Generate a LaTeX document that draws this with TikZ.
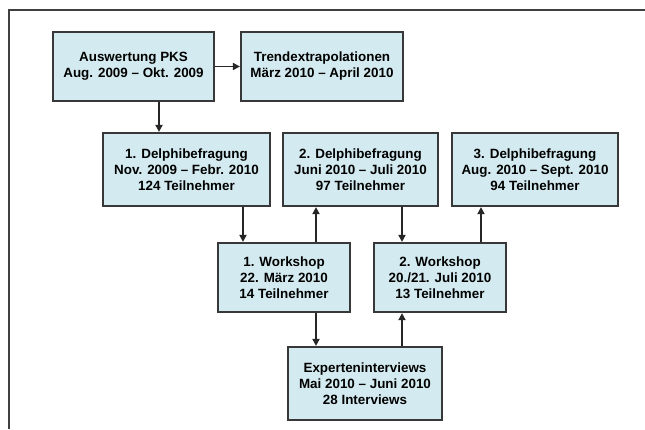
\documentclass[tikz,border=0pt]{standalone}
\usepackage{fontspec}
\setmainfont{Liberation Sans}
\usetikzlibrary{positioning, arrows.meta}
\definecolor{boxfill}{HTML}{D3EBF0}
\definecolor{boxline}{HTML}{383838}

\tikzset{
  phase/.style={draw=boxline, line width=2.2pt, fill=boxfill, align=center,
    font=\fontsize{13.4}{16}\selectfont\bfseries, inner sep=0pt},
  flow/.style={-{Triangle[length=7pt,width=7pt]}, line width=1.8pt, draw=black!85}
}

\begin{document}
\begin{tikzpicture}[x=1pt,y=-1pt,on grid]
  \useasboundingbox (0,0) rectangle (645,429);
  % frame
  \draw[line width=2pt, black!75] (9,429) -- (9,10) -- (645,10);

  \node[phase, minimum width=161pt, minimum height=69pt] (aus) at (133.5,66.5)
    {Auswertung PKS\\Aug. 2009 -- Okt. 2009};
  \node[phase, minimum width=162pt, minimum height=69pt] (trend) [right=188.5pt of aus]
    {Trendextrapolationen\\März 2010 -- April 2010};
  \node[phase, minimum width=167pt, minimum height=73pt] (d1) at (186.5,169.5)
    {1. Delphibefragung\\Nov. 2009 -- Febr. 2010\\124 Teilnehmer};
  \node[phase, minimum width=155pt, minimum height=73pt] (d2) [right=174pt of d1]
    {2. Delphibefragung\\Juni 2010 -- Juli 2010\\97 Teilnehmer};
  \node[phase, minimum width=166pt, minimum height=73pt] (d3) [right=174.5pt of d2]
    {3. Delphibefragung\\Aug. 2010 -- Sept. 2010\\94 Teilnehmer};
  \node[phase, minimum width=132pt, minimum height=69pt] (ws1) at (284,277.5)
    {1. Workshop\\22. März 2010\\14 Teilnehmer};
  \node[phase, minimum width=132pt, minimum height=69pt] (ws2) [right=156pt of ws1]
    {2. Workshop\\20./21. Juli 2010\\13 Teilnehmer};
  \node[phase, minimum width=154pt, minimum height=73pt] (exp) at (365,383.5)
    {Experteninterviews\\Mai 2010 -- Juni 2010\\28 Interviews};

  % connector columns
  \coordinate (xa) at (159,0);
  \coordinate (xb) at (243,0);
  \coordinate (xc) at (316,0);
  \coordinate (xd) at (402,0);
  \coordinate (xe) at (481,0);

  \draw[flow] (aus) -- (trend);
  \draw[flow] (aus.south -| xa) -- (d1.north -| xa);
  \draw[flow] (d1.south -| xb) -- (ws1.north -| xb);
  \draw[flow] (ws1.north -| xc) -- (d2.south -| xc);
  \draw[flow] (d2.south -| xd) -- (ws2.north -| xd);
  \draw[flow] (ws2.north -| xe) -- (d3.south -| xe);
  \draw[flow] (ws1.south -| xc) -- (exp.north -| xc);
  \draw[flow] (exp.north -| xd) -- (ws2.south -| xd);
\end{tikzpicture}
\end{document}
